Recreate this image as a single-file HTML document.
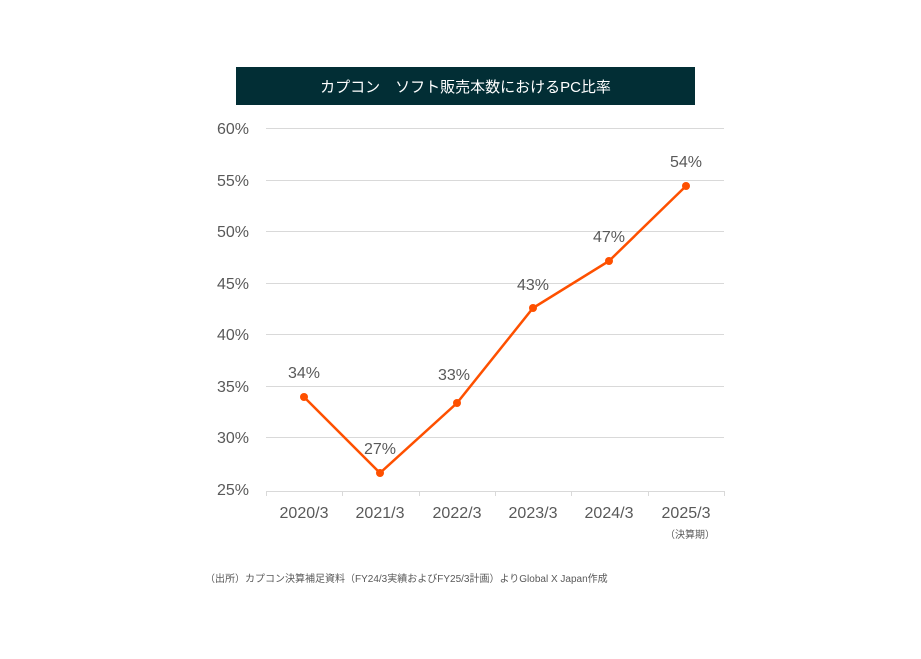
<!DOCTYPE html>
<html><head><meta charset="utf-8"><style>
body{margin:0;background:#fff;}
svg text{font-family:"Liberation Sans","Noto Sans CJK JP",sans-serif;}
</style></head><body>
<svg width="921" height="654" xmlns="http://www.w3.org/2000/svg">
<rect x="236" y="67" width="459" height="38" fill="#022e35"/>
<text x="465.5" y="92" fill="#fff" font-size="15" text-anchor="middle">カプコン　ソフト販売本数におけるPC比率</text>
<g stroke="#d9d9d9" stroke-width="1">
<line x1="266" y1="128.5" x2="724" y2="128.5"/>
<line x1="266" y1="180.5" x2="724" y2="180.5"/>
<line x1="266" y1="231.5" x2="724" y2="231.5"/>
<line x1="266" y1="283.5" x2="724" y2="283.5"/>
<line x1="266" y1="334.5" x2="724" y2="334.5"/>
<line x1="266" y1="386.5" x2="724" y2="386.5"/>
<line x1="266" y1="437.5" x2="724" y2="437.5"/>
<line x1="266" y1="491.5" x2="724" y2="491.5"/>
<line x1="266.5" y1="491" x2="266.5" y2="496"/>
<line x1="342.5" y1="491" x2="342.5" y2="496"/>
<line x1="419.5" y1="491" x2="419.5" y2="496"/>
<line x1="495.5" y1="491" x2="495.5" y2="496"/>
<line x1="571.5" y1="491" x2="571.5" y2="496"/>
<line x1="648.5" y1="491" x2="648.5" y2="496"/>
<line x1="724.5" y1="491" x2="724.5" y2="496"/>
</g>
<g fill="#595959" font-size="16" text-anchor="end">
<text x="249" y="134">60%</text><text x="249" y="186">55%</text><text x="249" y="237">50%</text>
<text x="249" y="289">45%</text><text x="249" y="340">40%</text><text x="249" y="392">35%</text>
<text x="249" y="443">30%</text><text x="249" y="495">25%</text>
</g>
<g fill="#595959" font-size="16" text-anchor="middle">
<text x="304" y="518">2020/3</text><text x="380" y="518">2021/3</text><text x="457" y="518">2022/3</text>
<text x="533" y="518">2023/3</text><text x="609" y="518">2024/3</text><text x="686" y="518">2025/3</text>
<text x="304" y="378">34%</text><text x="380" y="454">27%</text><text x="454" y="380">33%</text>
<text x="533" y="290">43%</text><text x="609" y="242">47%</text><text x="686" y="167">54%</text>
</g>
<text x="690" y="538" fill="#595959" font-size="10" text-anchor="middle">（決算期）</text>
<text x="205" y="582" fill="#595959" font-size="10">（出所）カプコン決算補足資料（FY24/3実績およびFY25/3計画）よりGlobal X Japan作成</text>
<polyline points="304,397 380,473 457,403 533,308 609,261 686,186" fill="none" stroke="#fe5000" stroke-width="2.5"/>
<g fill="#fe5000">
<circle cx="304" cy="397" r="4"/><circle cx="380" cy="473" r="4"/><circle cx="457" cy="403" r="4"/>
<circle cx="533" cy="308" r="4"/><circle cx="609" cy="261" r="4"/><circle cx="686" cy="186" r="4"/>
</g>
</svg>
</body></html>
